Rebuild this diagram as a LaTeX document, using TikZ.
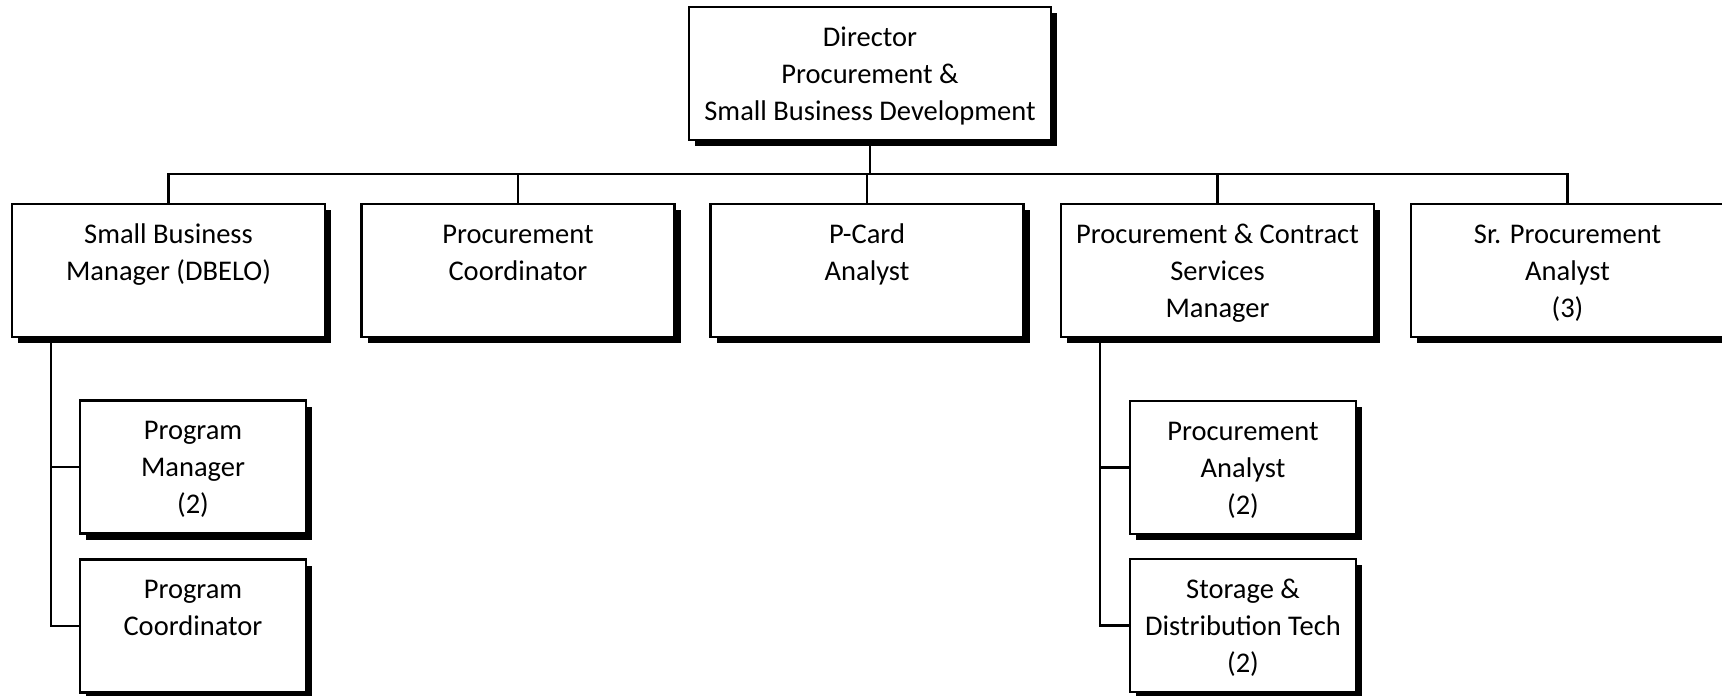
\documentclass[tikz,border=0pt]{standalone}
\usepackage{fontspec}
\setmainfont{Carlito}
\usetikzlibrary{shadows}
\newcommand\tstr{\rule[-11pt]{0pt}{41pt}}
\begin{document}
\begin{tikzpicture}[x=1pt,y=-1pt,
  box/.style={draw, line width=2.2pt, fill=white, align=center,
    font=\fontsize{28.5}{37}\selectfont, inner sep=0pt,
    minimum height=133pt,
    drop shadow={shadow xshift=6pt, shadow yshift=-6pt, fill=black, opacity=1}},
  mainbox/.style={box, minimum width=313pt},
  subbox/.style={box, minimum width=226pt},
  conn/.style={line width=2.2pt}]
\useasboundingbox (0,0) rectangle (1722,696);
\node[box, minimum width=362pt] (dir) at (870,73.5) {\tstr Director\\Procurement \&\\Small Business Development\tstr};
\node[mainbox] (sbm) at (168.5,270.5) {\tstr Small Business\\Manager (DBELO)\\\tstr};
\node[mainbox] (pc) at (518,270.5) {\tstr Procurement\\Coordinator\\\tstr};
\node[mainbox] (pcard) at (867,270.5) {\tstr P-Card\\Analyst\\\tstr};
\node[mainbox] (pcsm) at (1217.5,270.5) {\tstr Procurement \& Contract\\Services\\Manager\tstr};
\node[mainbox] (sr) at (1567.5,270.5) {\tstr Sr. Procurement\\Analyst\\(3)\tstr};
\node[subbox] (pm) at (193,467) {\tstr Program\\Manager\\(2)\tstr};
\node[subbox] (pco) at (193,626) {\tstr Program\\Coordinator\\\tstr};
\node[subbox] (pa) at (1243,467.5) {\tstr Procurement\\Analyst\\(2)\tstr};
\node[subbox] (sdt) at (1243,625.5) {\tstr Storage \&\\Distribution Tech\\(2)\tstr};
\coordinate (bus) at (870,174);
\coordinate (ltrunk) at (51,0);
\coordinate (rtrunk) at (1100,0);
\draw[conn] (dir.south) -- (dir.south |- bus);
\draw[conn] (sbm.north) -- (sbm.north |- bus) -- (sr.north |- bus) -- (sr.north);
\draw[conn] (pc.north) -- (pc.north |- bus);
\draw[conn] (pcard.north) -- (pcard.north |- bus);
\draw[conn] (pcsm.north) -- (pcsm.north |- bus);
\draw[conn] (sbm.south -| ltrunk) |- (pco.west);
\draw[conn] (ltrunk |- pm.west) -- (pm.west);
\draw[conn] (pcsm.south -| rtrunk) |- (sdt.west);
\draw[conn] (rtrunk |- pa.west) -- (pa.west);
\end{tikzpicture}
\end{document}
